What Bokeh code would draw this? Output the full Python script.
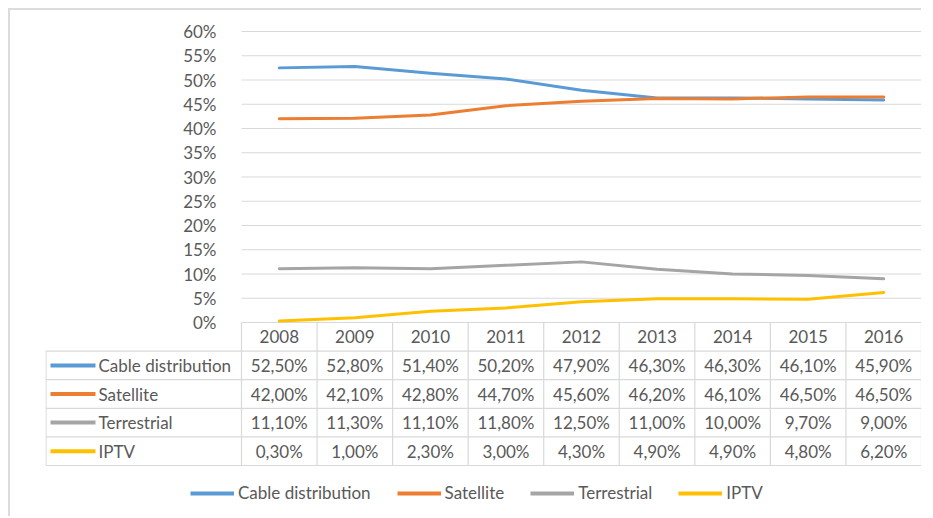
from bokeh.plotting import figure
from bokeh.models import Range1d, FixedTicker, NumeralTickFormatter, ColumnDataSource, Legend, LegendItem
from bokeh.embed import file_html
from bokeh.resources import INLINE
from bokeh.core.properties import value

# ---------------- data ----------------
years = ["2008", "2009", "2010", "2011", "2012", "2013", "2014", "2015", "2016"]
series_names = ["Cable distribution", "Satellite", "Terrestrial", "IPTV"]
cable = [52.5, 52.8, 51.4, 50.2, 47.9, 46.3, 46.3, 46.1, 45.9]
satellite = [42.0, 42.1, 42.8, 44.7, 45.6, 46.2, 46.1, 46.5, 46.5]
terrestrial = [11.1, 11.3, 11.1, 11.8, 12.5, 11.0, 10.0, 9.7, 9.0]
iptv = [0.3, 1.0, 2.3, 3.0, 4.3, 4.9, 4.9, 4.8, 6.2]
y_ticks = [0, 5, 10, 15, 20, 25, 30, 35, 40, 45, 50, 55, 60]

series_values = [cable, satellite, terrestrial, iptv]
colors = ["#5B9BD5", "#ED7D31", "#A5A5A5", "#FFC000"]

# ---------------- style / layout constants ----------------
FONT = "Lato"
FS = "17px"
TXT = "#595959"
GRID = "#d9d9d9"
n = len(years)
xs = list(range(n))

W, H = 913, 508
FRAME_W = 876          # table + plot width in px
PLOT_H = 291           # 0%..60% height in px
TOP_PAD = 10           # room above the 60% line for its label
BELOW_H = 188          # frame part below 0%
U = 680 / n            # px per year column
HEAD_PX = 196          # header column width (px)
R = 28.6               # table row height (px)
ymax = y_ticks[-1] / 100
PXY = PLOT_H / ymax    # px per unit fraction
x0 = -0.5 - HEAD_PX / U
ymin = -BELOW_H / PXY

p = figure(width=W, height=H, output_backend="svg", toolbar_location=None,
           x_range=Range1d(x0, n - 0.5), y_range=Range1d(ymin, ymax + TOP_PAD / PXY),
           x_axis_location=None,
           min_border_left=35, min_border_right=W - 35 - FRAME_W,
           min_border_top=H - 8 - PLOT_H - BELOW_H - TOP_PAD, min_border_bottom=8,
           outline_line_color=None,
           styles={"margin-left": "8px", "margin-top": "8px",
                   "border-left": "2px solid #dcdcdc", "border-top": "2px solid #dcdcdc"})
p.grid.grid_line_color = None

# y axis fixed inside the frame, just left of the plot area
yax = p.yaxis[0]
yax.fixed_location = -0.5 - 19 / U
yax.ticker = FixedTicker(ticks=[t / 100 for t in y_ticks])
yax.formatter = NumeralTickFormatter(format="0%")
yax.axis_line_color = None
yax.major_tick_line_color = None
yax.minor_tick_line_color = None
yax.major_label_standoff = 0
yax.major_label_text_font = FONT
yax.major_label_text_font_size = FS
yax.major_label_text_color = TXT

# horizontal gridlines over the plot area only
gy = [t / 100 for t in y_ticks]
p.segment(x0=[-0.5] * len(gy), y0=gy, x1=[n - 0.5] * len(gy), y1=gy,
          line_color=GRID, line_width=1)

# series lines
for vals, c in zip(series_values, colors):
    p.line(xs, [v / 100 for v in vals], line_color=c, line_width=3,
           line_join="round", line_cap="round")

# ---------------- data table ----------------
nrows = len(series_names)
row_y = lambda k: -k * R / PXY                  # boundary k (0 = top)
row_c = lambda k: -(k + 0.5) * R / PXY          # centre of row k (0 = years)

hx0, hx1, hy = [], [], []
for k in range(1, nrows + 2):
    hx0.append(x0); hx1.append(n - 0.5); hy.append(row_y(k))
p.segment(x0=hx0, y0=hy, x1=hx1, y1=hy, line_color=GRID, line_width=1.2)

vx, vy0, vy1 = [x0 + 0.5 / U], [row_y(1)], [row_y(nrows + 1)]
for c in range(n + 1):
    vx.append(c - 0.5); vy0.append(row_y(0)); vy1.append(row_y(nrows + 1))
p.segment(x0=vx, y0=vy0, x1=vx, y1=vy1, line_color=GRID, line_width=1.2)

p.text(x=xs, y=[row_c(0)] * n, text=years, text_align="center", text_baseline="middle",
       text_font=value(FONT), text_font_size=FS, text_color=TXT)

cx, cy, ct = [], [], []
for r, vals in enumerate(series_values):
    for c, v in enumerate(vals):
        cx.append(c); cy.append(row_c(r + 1))
        ct.append(f"{v:.2f}%".replace(".", ","))
p.text(x=cx, y=cy, text=ct, text_align="center", text_baseline="middle",
       text_font=value(FONT), text_font_size=FS, text_color=TXT)

ky = [row_c(r + 1) for r in range(nrows)]
key_src = ColumnDataSource(dict(x0=[x0 + 5 / U] * nrows, x1=[x0 + 50 / U] * nrows,
                                y=ky, color=colors))
key_r = p.segment(x0="x0", y0="y", x1="x1", y1="y", source=key_src,
                  line_color="color", line_width=4)
p.text(x=[x0 + 53 / U] * nrows, y=ky, text=series_names,
       text_align="left", text_baseline="middle",
       text_font=value(FONT), text_font_size=FS, text_color=TXT)

# bottom legend
items = [LegendItem(label=nm, renderers=[key_r], index=i) for i, nm in enumerate(series_names)]
leg = Legend(items=items, orientation="horizontal", location=(145, 7),
             glyph_width=44, glyph_height=20, label_standoff=4, spacing=26,
             padding=0, margin=0, border_line_color=None, background_fill_alpha=0,
             label_text_font=FONT, label_text_font_size=FS, label_text_color=TXT,
             label_height=20)
p.add_layout(leg)

open("out.html", "w").write(file_html(p, INLINE))
